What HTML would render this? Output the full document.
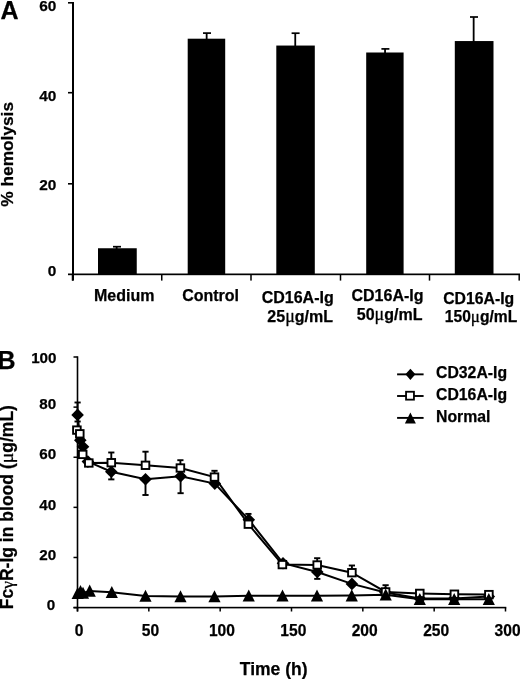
<!DOCTYPE html>
<html lang="en"><head><meta charset="utf-8"><title>Figure</title>
<style>html,body{margin:0;padding:0;background:#fff}svg{display:block;will-change:transform;transform:translateZ(0)}text{font-family:"Liberation Sans", Arial, Helvetica, sans-serif;font-weight:bold;fill:#000;stroke:#000;stroke-width:0.25px;stroke-linejoin:round}.r{font-weight:normal;stroke-width:0.3px;font-family:"Liberation Serif",serif}</style>
</head><body>
<svg width="520" height="679" viewBox="0 0 520 679">
<rect width="520" height="679" fill="#fff"/>
<g id="chartA">
<text x="0.5" y="18.8" font-size="25">A</text>
<rect x="72" y="2" width="2" height="278.6" fill="#000"/>
<rect x="68" y="2.00" width="5" height="1.6" fill="#000"/>
<rect x="68" y="91.90" width="5" height="1.6" fill="#000"/>
<rect x="68" y="183.00" width="5" height="1.6" fill="#000"/>
<rect x="68" y="273.5" width="452" height="1.7" fill="#000"/>
<rect x="71.75" y="274" width="1.5" height="6.6" fill="#000"/>
<rect x="161.00" y="274" width="1.5" height="6.6" fill="#000"/>
<rect x="250.25" y="274" width="1.5" height="6.6" fill="#000"/>
<rect x="339.75" y="274" width="1.5" height="6.6" fill="#000"/>
<rect x="428.75" y="274" width="1.5" height="6.6" fill="#000"/>
<rect x="518.45" y="274" width="1.5" height="6.6" fill="#000"/>
<text x="56.3" y="11.4" font-size="15.4" text-anchor="end">60</text>
<text x="56.3" y="100.9" font-size="15.4" text-anchor="end">40</text>
<text x="56.3" y="189.8" font-size="15.4" text-anchor="end">20</text>
<text x="56.3" y="275.8" font-size="15.4" text-anchor="end">0</text>
<text transform="translate(13.0,206.7) rotate(-90)" font-size="17.3">% hemolysis</text>
<rect x="98.00" y="248.25" width="38.75" height="26.15" fill="#000"/>
<rect x="115.75" y="246.70" width="1.8" height="2.55" fill="#000"/>
<rect x="113.00" y="245.85" width="8" height="1.7" fill="#000"/>
<rect x="187.70" y="38.70" width="37.50" height="235.70" fill="#000"/>
<rect x="205.75" y="33.10" width="1.8" height="6.60" fill="#000"/>
<rect x="203.00" y="32.25" width="8" height="1.7" fill="#000"/>
<rect x="276.30" y="45.55" width="38.50" height="228.85" fill="#000"/>
<rect x="294.35" y="33.20" width="1.8" height="13.35" fill="#000"/>
<rect x="291.60" y="32.35" width="8" height="1.7" fill="#000"/>
<rect x="366.20" y="52.50" width="37.40" height="221.90" fill="#000"/>
<rect x="384.15" y="48.90" width="1.8" height="4.60" fill="#000"/>
<rect x="381.40" y="48.05" width="8" height="1.7" fill="#000"/>
<rect x="454.80" y="41.05" width="38.70" height="233.35" fill="#000"/>
<rect x="472.75" y="17.00" width="1.8" height="25.05" fill="#000"/>
<rect x="470.00" y="16.15" width="8" height="1.7" fill="#000"/>
<text x="124.25" y="301.2" font-size="16" text-anchor="middle">Medium</text>
<text x="210.6" y="301.2" font-size="16" text-anchor="middle">Control</text>
<text x="297.7" y="303.3" font-size="16" text-anchor="middle">CD16A-Ig</text>
<text x="300.2" y="322.2" font-size="16" text-anchor="middle">25<tspan class="r" font-size="18">μ</tspan>g/mL</text>
<text x="387.5" y="301.2" font-size="16" text-anchor="middle">CD16A-Ig</text>
<text x="389.6" y="319.9" font-size="16" text-anchor="middle">50<tspan class="r" font-size="18">μ</tspan>g/mL</text>
<text x="478.7" y="303.9" font-size="15.8" text-anchor="middle">CD16A-Ig</text>
<text x="481" y="322.2" font-size="15.6" text-anchor="middle">150<tspan class="r" font-size="17">μ</tspan>g/mL</text>
</g>
<g id="chartB">
<text x="-2.4" y="368.8" font-size="25">B</text>
<rect x="76.7" y="356.3" width="1.6" height="255.2" fill="#000"/>
<rect x="73.5" y="606.8" width="432.8" height="1.6" fill="#000"/>
<rect x="73.5" y="356.25" width="4" height="1.5" fill="#000"/>
<rect x="73.5" y="406.37" width="4" height="1.5" fill="#000"/>
<rect x="73.5" y="456.49" width="4" height="1.5" fill="#000"/>
<rect x="73.5" y="506.61" width="4" height="1.5" fill="#000"/>
<rect x="73.5" y="556.73" width="4" height="1.5" fill="#000"/>
<rect x="73.5" y="606.85" width="4" height="1.5" fill="#000"/>
<rect x="76.75" y="607.6" width="1.5" height="3.9" fill="#000"/>
<rect x="148.08" y="607.6" width="1.5" height="3.9" fill="#000"/>
<rect x="219.42" y="607.6" width="1.5" height="3.9" fill="#000"/>
<rect x="290.75" y="607.6" width="1.5" height="3.9" fill="#000"/>
<rect x="362.08" y="607.6" width="1.5" height="3.9" fill="#000"/>
<rect x="433.42" y="607.6" width="1.5" height="3.9" fill="#000"/>
<rect x="504.75" y="607.6" width="1.5" height="3.9" fill="#000"/>
<text x="56.5" y="363.2" font-size="15.2" text-anchor="end">100</text>
<text x="56.2" y="409.2" font-size="15.2" text-anchor="end">80</text>
<text x="56.2" y="459.2" font-size="15.2" text-anchor="end">60</text>
<text x="56.2" y="510.2" font-size="15.2" text-anchor="end">40</text>
<text x="56.2" y="560.2" font-size="15.2" text-anchor="end">20</text>
<text x="55.2" y="610.2" font-size="15.2" text-anchor="end">0</text>
<text x="79.0" y="635.7" font-size="15.6" text-anchor="middle">0</text>
<text x="150.4" y="635.7" font-size="15.6" text-anchor="middle">50</text>
<text x="221.9" y="635.7" font-size="15.6" text-anchor="middle">100</text>
<text x="293.3" y="635.7" font-size="15.6" text-anchor="middle">150</text>
<text x="364.7" y="635.7" font-size="15.6" text-anchor="middle">200</text>
<text x="436.2" y="635.7" font-size="15.6" text-anchor="middle">250</text>
<text x="507.6" y="635.7" font-size="15.6" text-anchor="middle">300</text>
<text x="273.7" y="674.6" font-size="17.5" text-anchor="middle">Time (h)</text>
<text transform="translate(13.2,609.3) rotate(-90)" font-size="17.55">Fc<tspan class="r">γ</tspan>R-Ig in blood (<tspan class="r" font-size="19.5">μ</tspan>g/mL)</text>
<polyline points="77.70,593.20 80.50,591.30 83.00,593.00 89.70,590.90 111.80,592.20 145.50,596.00 180.50,596.50 214.50,596.50 248.75,595.80 282.50,595.80 317.00,595.80 351.75,595.60 385.70,594.80 419.80,599.20 454.20,599.20 488.80,599.20" fill="none" stroke="#000" stroke-width="2.0"/>
<polyline points="77.60,414.90 80.30,440.20 83.00,446.70 87.90,461.60 111.30,471.70 145.50,479.25 180.60,476.25 214.80,483.60 248.80,519.70 283.00,563.20 317.30,572.00 351.90,583.90 385.40,592.50 419.80,598.60 454.20,598.40 488.80,596.60" fill="none" stroke="#000" stroke-width="2.0"/>
<line x1="77.60" y1="414.90" x2="77.60" y2="402.50" stroke="#000" stroke-width="1.9"/>
<line x1="74.50" y1="402.50" x2="80.70" y2="402.50" stroke="#000" stroke-width="1.9"/>
<line x1="77.60" y1="414.90" x2="77.60" y2="421.50" stroke="#000" stroke-width="1.9"/>
<line x1="74.50" y1="421.50" x2="80.70" y2="421.50" stroke="#000" stroke-width="1.9"/>
<line x1="111.30" y1="471.70" x2="111.30" y2="479.40" stroke="#000" stroke-width="1.9"/>
<line x1="108.20" y1="479.40" x2="114.40" y2="479.40" stroke="#000" stroke-width="1.9"/>
<line x1="145.50" y1="479.25" x2="145.50" y2="495.00" stroke="#000" stroke-width="1.9"/>
<line x1="142.40" y1="495.00" x2="148.60" y2="495.00" stroke="#000" stroke-width="1.9"/>
<line x1="180.60" y1="476.25" x2="180.60" y2="493.20" stroke="#000" stroke-width="1.9"/>
<line x1="177.50" y1="493.20" x2="183.70" y2="493.20" stroke="#000" stroke-width="1.9"/>
<line x1="317.30" y1="572.00" x2="317.30" y2="578.90" stroke="#000" stroke-width="1.9"/>
<line x1="314.20" y1="578.90" x2="320.40" y2="578.90" stroke="#000" stroke-width="1.9"/>
<polygon points="77.60,408.60 83.90,414.90 77.60,421.20 71.30,414.90" fill="#000"/>
<polygon points="80.30,433.90 86.60,440.20 80.30,446.50 74.00,440.20" fill="#000"/>
<polygon points="83.00,440.40 89.30,446.70 83.00,453.00 76.70,446.70" fill="#000"/>
<polygon points="87.90,455.30 94.20,461.60 87.90,467.90 81.60,461.60" fill="#000"/>
<polygon points="111.30,465.40 117.60,471.70 111.30,478.00 105.00,471.70" fill="#000"/>
<polygon points="145.50,472.95 151.80,479.25 145.50,485.55 139.20,479.25" fill="#000"/>
<polygon points="180.60,469.95 186.90,476.25 180.60,482.55 174.30,476.25" fill="#000"/>
<polygon points="214.80,477.30 221.10,483.60 214.80,489.90 208.50,483.60" fill="#000"/>
<polygon points="248.80,513.40 255.10,519.70 248.80,526.00 242.50,519.70" fill="#000"/>
<polygon points="283.00,556.90 289.30,563.20 283.00,569.50 276.70,563.20" fill="#000"/>
<polygon points="317.30,565.70 323.60,572.00 317.30,578.30 311.00,572.00" fill="#000"/>
<polygon points="351.90,577.60 358.20,583.90 351.90,590.20 345.60,583.90" fill="#000"/>
<polygon points="385.40,586.20 391.70,592.50 385.40,598.80 379.10,592.50" fill="#000"/>
<polygon points="419.80,592.30 426.10,598.60 419.80,604.90 413.50,598.60" fill="#000"/>
<polygon points="454.20,592.10 460.50,598.40 454.20,604.70 447.90,598.40" fill="#000"/>
<polygon points="488.80,590.30 495.10,596.60 488.80,602.90 482.50,596.60" fill="#000"/>
<polyline points="76.90,430.10 79.80,433.80 82.70,454.40 88.80,463.00 111.30,462.70 145.50,465.30 180.40,468.00 214.50,477.10 248.40,524.20 282.40,564.60 317.20,565.00 351.90,572.70 385.60,591.90 419.80,593.40 454.40,594.20 488.90,594.60" fill="none" stroke="#000" stroke-width="2.0"/>
<line x1="111.30" y1="462.70" x2="111.30" y2="452.50" stroke="#000" stroke-width="1.9"/>
<line x1="108.20" y1="452.50" x2="114.40" y2="452.50" stroke="#000" stroke-width="1.9"/>
<line x1="145.50" y1="465.30" x2="145.50" y2="451.70" stroke="#000" stroke-width="1.9"/>
<line x1="142.40" y1="451.70" x2="148.60" y2="451.70" stroke="#000" stroke-width="1.9"/>
<line x1="180.40" y1="468.00" x2="180.40" y2="460.20" stroke="#000" stroke-width="1.9"/>
<line x1="177.30" y1="460.20" x2="183.50" y2="460.20" stroke="#000" stroke-width="1.9"/>
<line x1="214.50" y1="477.10" x2="214.50" y2="470.80" stroke="#000" stroke-width="1.9"/>
<line x1="211.40" y1="470.80" x2="217.60" y2="470.80" stroke="#000" stroke-width="1.9"/>
<line x1="248.40" y1="524.20" x2="248.40" y2="513.90" stroke="#000" stroke-width="1.9"/>
<line x1="245.30" y1="513.90" x2="251.50" y2="513.90" stroke="#000" stroke-width="1.9"/>
<line x1="317.20" y1="565.00" x2="317.20" y2="558.20" stroke="#000" stroke-width="1.9"/>
<line x1="314.10" y1="558.20" x2="320.30" y2="558.20" stroke="#000" stroke-width="1.9"/>
<line x1="351.90" y1="572.70" x2="351.90" y2="565.50" stroke="#000" stroke-width="1.9"/>
<line x1="348.80" y1="565.50" x2="355.00" y2="565.50" stroke="#000" stroke-width="1.9"/>
<line x1="385.60" y1="591.90" x2="385.60" y2="585.20" stroke="#000" stroke-width="1.9"/>
<line x1="382.50" y1="585.20" x2="388.70" y2="585.20" stroke="#000" stroke-width="1.9"/>
<rect x="73.10" y="426.40" width="7.6" height="7.4" fill="#fff" stroke="#000" stroke-width="1.9"/>
<rect x="76.00" y="430.10" width="7.6" height="7.4" fill="#fff" stroke="#000" stroke-width="1.9"/>
<rect x="78.90" y="450.70" width="7.6" height="7.4" fill="#fff" stroke="#000" stroke-width="1.9"/>
<rect x="85.00" y="459.30" width="7.6" height="7.4" fill="#fff" stroke="#000" stroke-width="1.9"/>
<rect x="107.50" y="459.00" width="7.6" height="7.4" fill="#fff" stroke="#000" stroke-width="1.9"/>
<rect x="141.70" y="461.60" width="7.6" height="7.4" fill="#fff" stroke="#000" stroke-width="1.9"/>
<rect x="176.60" y="464.30" width="7.6" height="7.4" fill="#fff" stroke="#000" stroke-width="1.9"/>
<rect x="210.70" y="473.40" width="7.6" height="7.4" fill="#fff" stroke="#000" stroke-width="1.9"/>
<rect x="244.60" y="520.50" width="7.6" height="7.4" fill="#fff" stroke="#000" stroke-width="1.9"/>
<rect x="278.60" y="560.90" width="7.6" height="7.4" fill="#fff" stroke="#000" stroke-width="1.9"/>
<rect x="313.40" y="561.30" width="7.6" height="7.4" fill="#fff" stroke="#000" stroke-width="1.9"/>
<rect x="348.10" y="569.00" width="7.6" height="7.4" fill="#fff" stroke="#000" stroke-width="1.9"/>
<rect x="381.80" y="588.20" width="7.6" height="7.4" fill="#fff" stroke="#000" stroke-width="1.9"/>
<rect x="416.00" y="589.70" width="7.6" height="7.4" fill="#fff" stroke="#000" stroke-width="1.9"/>
<rect x="450.60" y="590.50" width="7.6" height="7.4" fill="#fff" stroke="#000" stroke-width="1.9"/>
<rect x="485.10" y="590.90" width="7.6" height="7.4" fill="#fff" stroke="#000" stroke-width="1.9"/>
<polygon points="77.70,586.90 83.80,599.00 71.60,599.00" fill="#000"/>
<polygon points="80.50,585.00 86.60,597.10 74.40,597.10" fill="#000"/>
<polygon points="83.00,586.70 89.10,598.80 76.90,598.80" fill="#000"/>
<polygon points="89.70,584.60 95.80,596.70 83.60,596.70" fill="#000"/>
<polygon points="111.80,585.90 117.90,598.00 105.70,598.00" fill="#000"/>
<polygon points="145.50,589.70 151.60,601.80 139.40,601.80" fill="#000"/>
<polygon points="180.50,590.20 186.60,602.30 174.40,602.30" fill="#000"/>
<polygon points="214.50,590.20 220.60,602.30 208.40,602.30" fill="#000"/>
<polygon points="248.75,589.50 254.85,601.60 242.65,601.60" fill="#000"/>
<polygon points="282.50,589.50 288.60,601.60 276.40,601.60" fill="#000"/>
<polygon points="317.00,589.50 323.10,601.60 310.90,601.60" fill="#000"/>
<polygon points="351.75,589.30 357.85,601.40 345.65,601.40" fill="#000"/>
<polygon points="385.70,588.50 391.80,600.60 379.60,600.60" fill="#000"/>
<polygon points="419.80,592.90 425.90,605.00 413.70,605.00" fill="#000"/>
<polygon points="454.20,592.90 460.30,605.00 448.10,605.00" fill="#000"/>
<polygon points="488.80,592.90 494.90,605.00 482.70,605.00" fill="#000"/>
<line x1="397.1" y1="374.35" x2="423.6" y2="374.35" stroke="#000" stroke-width="1.9"/>
<line x1="397.1" y1="396.00" x2="423.6" y2="396.00" stroke="#000" stroke-width="1.9"/>
<line x1="397.1" y1="417.90" x2="423.6" y2="417.90" stroke="#000" stroke-width="1.9"/>
<polygon points="410.4,368.7 415.4,374.3 410.4,379.9 405.4,374.3" fill="#000"/>
<rect x="406.05" y="391.75" width="7.9" height="7.9" fill="#fff" stroke="#000" stroke-width="1.8"/>
<polygon points="410.4,412.4 415.9,423.5 404.9,423.5" fill="#000"/>
<text x="436" y="378.4" font-size="15.8">CD32A-Ig</text>
<text x="436" y="400" font-size="15.8">CD16A-Ig</text>
<text x="436" y="422.2" font-size="15.8">Normal</text>
</g>
</svg>
</body></html>
